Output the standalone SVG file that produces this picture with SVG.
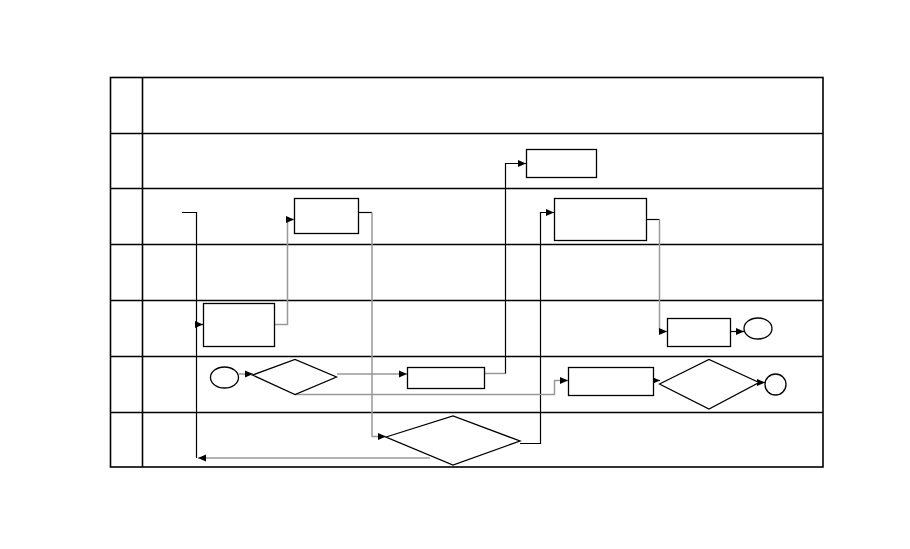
<svg xmlns="http://www.w3.org/2000/svg" width="910" height="549" viewBox="0 0 910 549">
<style>
.grid{stroke:#000;stroke-width:1.6;fill:none}
.n{fill:#fff;stroke:#000;stroke-width:1.3}
.k{fill:none;stroke:#000;stroke-width:1.2}
.g{fill:none;stroke:#999;stroke-width:1.5}
</style>
<defs>
<marker id="ah" markerUnits="userSpaceOnUse" markerWidth="9" markerHeight="8" refX="8" refY="4" orient="auto">
<path d="M0,0.5 L8,4 L0,7.5 Z" fill="#000"/>
</marker>
</defs>
<rect width="910" height="549" fill="#fff"/>
<g id="table">
<rect class="grid" x="110.5" y="77.5" width="712.5" height="389.5"/>
<line class="grid" x1="142.5" y1="77" x2="142.5" y2="467"/>
<line class="grid" x1="110" y1="133.5" x2="823" y2="133.5"/>
<line class="grid" x1="110" y1="188.5" x2="823" y2="188.5"/>
<line class="grid" x1="110" y1="244.5" x2="823" y2="244.5"/>
<line class="grid" x1="110" y1="300.5" x2="823" y2="300.5"/>
<line class="grid" x1="110" y1="356.5" x2="823" y2="356.5"/>
<line class="grid" x1="110" y1="412.5" x2="823" y2="412.5"/>
</g>
<g id="connectors">
<path class="k" d="M182,212.5 H196.5 V458"/>
<path class="k" d="M196.5,324.5 H203" marker-end="url(#ah)"/>
<path class="g" d="M275,324.5 H287.5 V219.5 H294" marker-end="url(#ah)"/>
<path class="k" d="M359,212.5 H372"/>
<path class="g" d="M372,212.5 V436.5 H386" marker-end="url(#ah)"/>
<path class="g" d="M430,458 H198" marker-end="url(#ah)"/>
<path class="k" d="M520,443.5 H540.5 V212.5 H554" marker-end="url(#ah)"/>
<path class="k" d="M647,219.5 H659.5"/>
<path class="g" d="M659.5,219.5 V331.5 H667" marker-end="url(#ah)"/>
<path class="k" d="M731,331.5 H744" marker-end="url(#ah)"/>
<path class="g" d="M239,374 H253" marker-end="url(#ah)"/>
<path class="g" d="M337,374 H407" marker-end="url(#ah)"/>
<path class="g" d="M485,373.5 H505.5"/>
<path class="k" d="M505.5,373.5 V163.5 H526" marker-end="url(#ah)"/>
<path class="g" d="M295,394.5 H554.5 V380.5 H568" marker-end="url(#ah)"/>
<path class="k" d="M653,380.5 H660" marker-end="url(#ah)"/>
<path class="k" d="M759,382.5 H765" marker-end="url(#ah)"/>
</g>
<g id="nodeA"><rect class="n" x="294.5" y="198.5" width="64" height="35"/></g>
<g id="nodeB"><rect class="n" x="203.5" y="303.5" width="71" height="43"/></g>
<g id="nodeH"><rect class="n" x="526.5" y="149.5" width="70" height="28"/></g>
<g id="nodeE"><rect class="n" x="554.5" y="198.5" width="92" height="42"/></g>
<g id="nodeF"><rect class="n" x="667.5" y="318.5" width="63" height="28"/></g>
<g id="endF"><ellipse class="n" cx="758" cy="328.5" rx="14" ry="10.5"/></g>
<g id="start"><ellipse class="n" cx="224.5" cy="377.5" rx="14" ry="10.5"/></g>
<g id="decisionC"><polygon class="n" points="252.5,375 295,359.5 336.5,377 295,394.5"/></g>
<g id="nodeG"><rect class="n" x="407.5" y="367.5" width="77" height="21"/></g>
<g id="nodeI"><rect class="n" x="568.5" y="367.5" width="85" height="28"/></g>
<g id="decisionJ"><polygon class="n" points="659.5,384 709,359.5 759,382.5 709,409"/></g>
<g id="endK"><ellipse class="n" cx="775.5" cy="384.5" rx="10.5" ry="10.5"/></g>
<g id="decisionD"><polygon class="n" points="386,437 453,416 520,441 453,465"/></g>
</svg>
